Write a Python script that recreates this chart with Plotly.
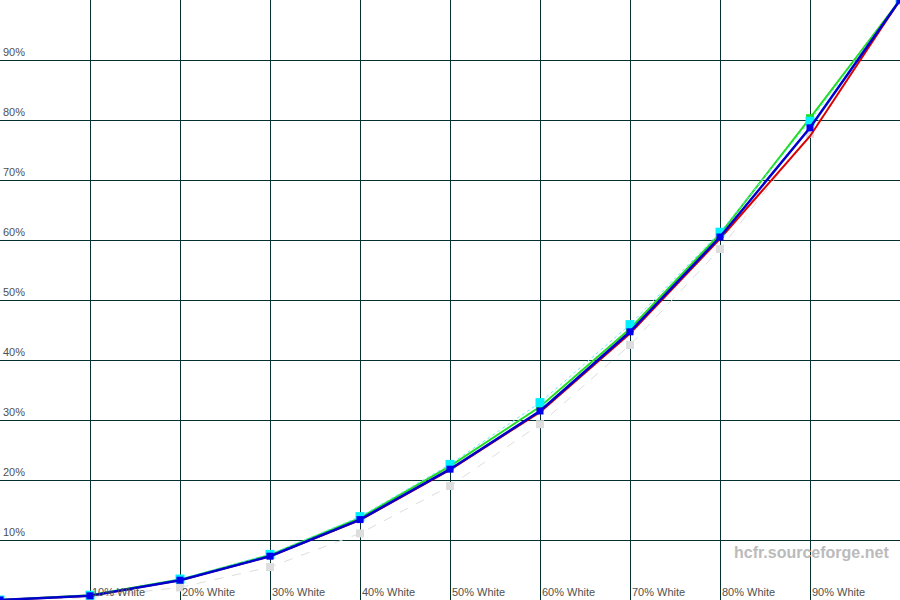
import plotly.graph_objects as go

x_vals = [0, 10, 20, 30, 40, 50, 60, 70, 80, 90, 100]
x_labels = ["", "10% White", "20% White", "30% White", "40% White", "50% White",
            "60% White", "70% White", "80% White", "90% White"]
y_labels = ["", "10%", "20%", "30%", "40%", "50%", "60%", "70%", "80%", "90%"]

reference = [0, 0.4, 2.1, 5.5, 11.1, 19.0, 29.3, 42.5, 58.5, 77.7, 100]
measured_y = [0, 0.8, 3.5, 7.6, 13.9, 22.6, 32.9, 45.9, 61.3, 79.8, 100]
red_ch = [0, 0.7, 3.3, 7.3, 13.3, 21.7, 31.3, 44.4, 60.2, 77.3, 100]
green_ch = [0, 0.8, 3.4, 7.5, 13.7, 22.3, 32.2, 45.2, 61.0, 80.3, 100]
blue_ch = [0, 0.7, 3.3, 7.3, 13.4, 21.8, 31.5, 44.7, 60.5, 78.7, 100]

fig = go.Figure()
fig.add_trace(go.Scatter(x=x_vals, y=reference, mode="lines+markers",
                         line=dict(color="#dddddd", width=1, dash="dash"),
                         marker=dict(symbol="square", size=8, color="#dddddd")))
fig.add_trace(go.Scatter(x=x_vals, y=red_ch, mode="lines",
                         line=dict(color="#dd0000", width=2)))
fig.add_trace(go.Scatter(x=x_vals, y=green_ch, mode="lines+markers",
                         line=dict(color="#22dd22", width=2),
                         marker=dict(symbol="square", size=8, color="#22dd22")))
fig.add_trace(go.Scatter(x=x_vals, y=measured_y, mode="lines+markers",
                         line=dict(color="#66e6ff", width=1, dash="dot"),
                         marker=dict(symbol="square", size=9, color="#00f0ff")))
fig.add_trace(go.Scatter(x=x_vals, y=blue_ch, mode="lines+markers",
                         line=dict(color="#0000cc", width=2.5),
                         marker=dict(symbol="square", size=7, color="#0000ee")))

label_font = dict(family="Arial, Liberation Sans", size=11, color="#505050")
annotations = []
for xv, lab in zip(x_vals[:-1], x_labels):
    if lab:
        annotations.append(dict(x=xv, y=0, xref="x", yref="y", text=lab,
                                showarrow=False, xanchor="left", yanchor="bottom",
                                xshift=0, yshift=0, font=label_font))
for yv, lab in zip(x_vals[:-1], y_labels):
    if lab:
        annotations.append(dict(x=0, y=yv, xref="x", yref="y", text=lab,
                                showarrow=False, xanchor="left", yanchor="bottom",
                                xshift=1, yshift=0, font=label_font))
annotations.append(dict(x=0.99, y=0.079, xref="paper", yref="paper",
                        text="<b>hcfr.sourceforge.net</b>", showarrow=False,
                        xanchor="right", yanchor="middle",
                        font=dict(family="Arial, Liberation Sans", size=16, color="#bbbbbb")))

fig.update_layout(
    width=900, height=600,
    margin=dict(l=0, r=0, t=0, b=0),
    paper_bgcolor="white", plot_bgcolor="white",
    showlegend=False,
    xaxis=dict(range=[0, 100], dtick=10, showgrid=True, gridcolor="#053030",
               gridwidth=1.2, showticklabels=False, zeroline=False, fixedrange=True),
    yaxis=dict(range=[0, 100], dtick=10, showgrid=True, gridcolor="#053030",
               gridwidth=1.2, showticklabels=False, zeroline=False, fixedrange=True),
    annotations=annotations,
)
fig.write_html("out.html", config={"displayModeBar": False},
               post_script="document.body.style.margin='0';document.body.style.overflow='hidden';")
